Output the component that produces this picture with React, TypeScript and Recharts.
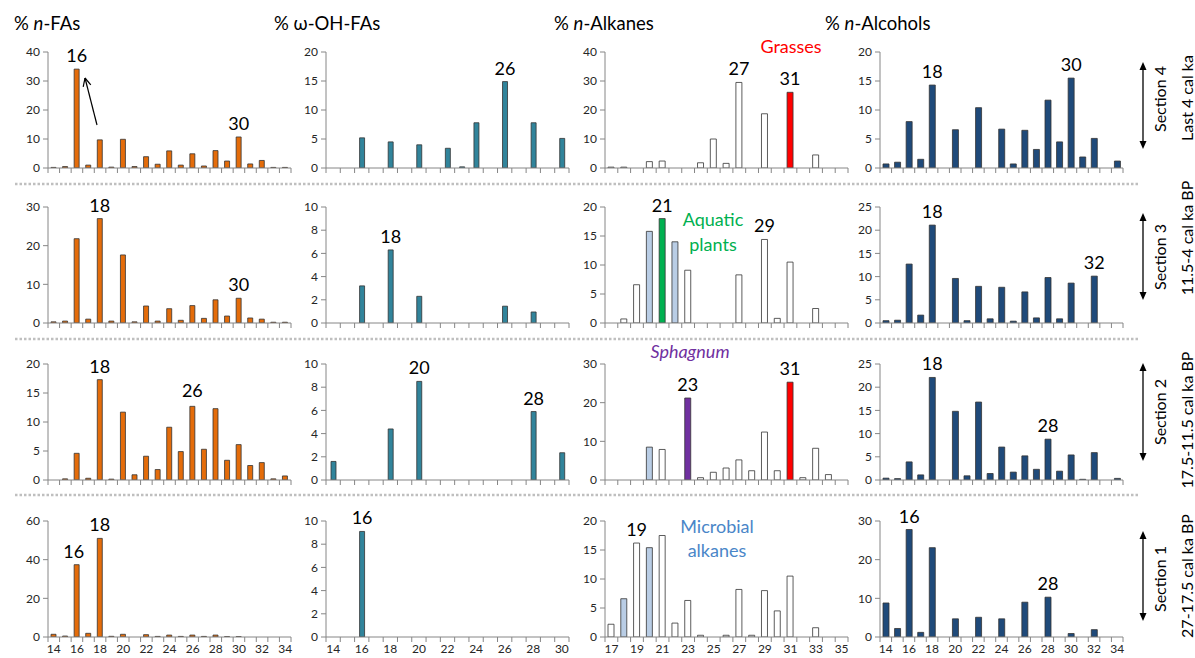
import React from "react";
import { BarChart, Bar, XAxis, YAxis, Cell, LabelList } from "recharts";

const FONT = "Lato, 'Open Sans', sans-serif";
const AXIS = "#868686";
const TXT = "#262626";
const PLOT_W = 243;
const PLOT_H = 116;

// ---------- categories ----------
const faCats = [14, 15, 16, 17, 18, 19, 20, 21, 22, 23, 24, 25, 26, 27, 28, 29, 30, 31, 32, 33, 34];
const ohCats = [14, 15, 16, 17, 18, 19, 20, 21, 22, 23, 24, 25, 26, 27, 28, 29, 30];
const alkCats = [17, 18, 19, 20, 21, 22, 23, 24, 25, 26, 27, 28, 29, 30, 31, 32, 33, 34, 35];
const alcCats = [14, 15, 16, 17, 18, 19, 20, 21, 22, 23, 24, 25, 26, 27, 28, 29, 30, 31, 32, 33, 34];

// ---------- x tick labels (bottom row) ----------
const faTickLabels = [14, 16, 18, 20, 22, 24, 26, 28, 30, 32, 34];
const ohTickLabels = [14, 16, 18, 20, 22, 24, 26, 28, 30];
const alkTickLabels = [17, 19, 21, 23, 25, 27, 29, 31, 33, 35];
const alcTickLabels = [14, 16, 18, 20, 22, 24, 26, 28, 30, 32, 34];

// ---------- % n-FAs ----------
const faS4 = [0.2, 0.5, 34.1, 1.0, 9.7, 0.3, 9.9, 0.5, 3.9, 1.3, 5.9, 1.0, 4.9, 0.7, 6.0, 2.4, 10.7, 1.4, 2.6, 0.2, 0.2];
const faS3 = [0.3, 0.5, 21.8, 1.0, 27.0, 0.5, 17.6, 0.3, 4.4, 0.5, 3.7, 0.7, 4.5, 1.2, 6.0, 1.8, 6.4, 1.3, 1.0, 0.2, 0.2];
const faS2 = [0, 0.2, 4.6, 0.3, 17.3, 0.15, 11.7, 0.9, 4.1, 1.8, 9.1, 4.9, 12.7, 5.3, 12.3, 3.4, 6.1, 2.5, 3.0, 0.2, 0.7];
const faS1 = [1.4, 0.5, 37.4, 1.9, 51.0, 0.35, 1.4, 0, 1.2, 0.3, 1.0, 0.3, 1.0, 0.3, 1.0, 0.2, 0.2, 0, 0, 0, 0];

// ---------- % ω-OH-FAs ----------
const ohS4 = [0, 0, 5.2, 0, 4.5, 0, 4.0, 0, 3.4, 0.2, 7.8, 0, 14.9, 0, 7.8, 0, 5.1];
const ohS3 = [0, 0, 3.2, 0, 6.3, 0, 2.3, 0, 0, 0, 0, 0, 1.45, 0, 0.95, 0, 0];
const ohS2 = [1.6, 0, 0, 0, 4.4, 0, 8.5, 0, 0, 0, 0, 0, 0, 0, 5.9, 0, 2.35];
const ohS1 = [0, 0, 9.1, 0, 0, 0, 0, 0, 0, 0, 0, 0, 0, 0, 0, 0, 0];

// ---------- % n-Alkanes ----------
const alkS4 = [0.3, 0.3, 0, 2.2, 2.4, 0, 0, 1.8, 10.0, 1.6, 29.5, 0, 18.7, 0, 26.1, 0, 4.5, 0, 0];
const alkS3 = [0, 0.7, 6.6, 15.8, 18.0, 14.0, 9.1, 0, 0, 0, 8.3, 0, 14.4, 0.8, 10.5, 0, 2.5, 0, 0];
const alkS2 = [0, 0, 0, 8.5, 7.9, 0, 21.2, 0.6, 2.0, 3.1, 5.2, 2.4, 12.4, 2.4, 25.3, 0.6, 8.2, 1.4, 0];
const alkS1 = [2.2, 6.6, 16.2, 15.4, 17.5, 2.4, 6.3, 0.3, 0, 0.3, 8.2, 0.3, 8.0, 4.5, 10.5, 0, 1.6, 0, 0];

// highlighted alkane chain lengths
const alkS4Grass = [31];
const alkS3Microbial = [20, 22];
const alkS3Aquatic = [21];
const alkS2Microbial = [20];
const alkS2Sphagnum = [23];
const alkS2Grass = [31];
const alkS1Microbial = [18, 20];

// ---------- % n-Alcohols ----------
const alcS4 = [0.7, 1.0, 8.0, 1.5, 14.3, 0, 6.6, 0, 10.4, 0, 6.7, 0.7, 6.5, 3.2, 11.7, 4.5, 15.5, 1.9, 5.1, 0, 1.2];
const alcS3 = [0.5, 0.6, 12.7, 1.7, 21.1, 0, 9.6, 0.5, 7.9, 0.9, 7.7, 0.4, 6.7, 1.1, 9.8, 0.9, 8.6, 0, 10.1, 0, 0];
const alcS2 = [0.4, 0.3, 3.9, 1.1, 22.1, 0, 14.8, 0.9, 16.8, 1.4, 7.1, 1.7, 5.2, 2.3, 8.8, 1.9, 5.4, 0.15, 5.9, 0, 0.35];
const alcS1 = [8.8, 2.2, 27.8, 1.2, 23.1, 0, 4.7, 0, 5.1, 0, 4.7, 0, 9.0, 0, 10.3, 0, 0.9, 0, 1.9, 0, 0];

// ---------- y ticks ----------
const t40 = [0, 10, 20, 30, 40];
const t20by5 = [0, 5, 10, 15, 20];
const t30by10 = [0, 10, 20, 30];
const t10by2 = [0, 2, 4, 6, 8, 10];
const t25 = [0, 5, 10, 15, 20, 25];
const t60 = [0, 20, 40, 60];

// ---------- labelled peaks ----------
const faS4Peaks = [16, 30];
const ohS4Peaks = [26];
const alkS4Peaks = [27, 31];
const alcS4Peaks = [18, 30];
const faS3Peaks = [18, 30];
const ohS3Peaks = [18];
const alkS3Peaks = [21, 29];
const alcS3Peaks = [18, 32];
const faS2Peaks = [18, 26];
const ohS2Peaks = [20, 28];
const alkS2Peaks = [23, 31];
const alcS2Peaks = [18, 28];
const faS1Peaks = [16, 18];
const ohS1Peaks = [16];
const alkS1Peaks = [19];
const alcS1Peaks = [16, 28];

const COL_LEFT = [48, 326, 605, 880];
const ROW_TOP = [52, 207, 364, 521];

const ORANGE = "#E46C0A";
const TEAL = "#31849B";
const NAVY = "#1F4A7A";
const WHITE = "#FFFFFF";
const LIGHTBLUE = "#B9CDE5";
const GREEN = "#00B050";
const PURPLE = "#7030A0";
const RED = "#FF0000";

type PanelProps = {
  left: number;
  top: number;
  cats: number[];
  vals: number[];
  max: number;
  yTicks: number[];
  fill: string;
  barSize: number;
  peaks: number[];
  peakDx?: Record<number, number>;
  peakDy?: Record<number, number>;
  colorOf?: (c: number) => string | undefined;
  xLabels: number[] | null;
};

function Panel(p: PanelProps) {
  const n = p.cats.length;
  const bw = PLOT_W / n;
  const data = p.cats.map((c, i) => ({ cat: c, v: p.vals[i] }));
  const renderTick = (props: any) => {
    const { x, y, payload } = props;
    const idx = props.index ?? payload.index;
    return (
      <g>
        <line x1={x - bw / 2} x2={x - bw / 2} y1={y} y2={y + 5} stroke={AXIS} strokeWidth={1} />
        {idx === n - 1 && (
          <line x1={x + bw / 2} x2={x + bw / 2} y1={y} y2={y + 5} stroke={AXIS} strokeWidth={1} />
        )}
        {p.xLabels && p.xLabels.includes(payload.value) && (
          <text x={x} y={y + 16} textAnchor="middle" fontSize={12} fill={TXT} fontFamily={FONT}>
            {payload.value}
          </text>
        )}
      </g>
    );
  };
  const renderLabel = (props: any) => {
    const { x, y, width, value } = props;
    if (!p.peaks.includes(value)) return null;
    const dx = (p.peakDx && p.peakDx[value]) || 0;
    const dy = (p.peakDy && p.peakDy[value]) || 0;
    return (
      <text
        x={x + width / 2 + dx}
        y={y - 7 + dy}
        textAnchor="middle"
        fontSize={18}
        fill="#000"
        fontFamily={FONT}
      >
        {value}
      </text>
    );
  };
  return (
    <div style={{ position: "absolute", left: p.left - 40, top: p.top - 25 }}>
      <BarChart
        width={40 + PLOT_W + 6}
        height={25 + PLOT_H + 25}
        data={data}
        margin={{ top: 25, right: 6, bottom: 0, left: 0 }}
        style={{ overflow: "visible" }}
      >
        <XAxis
          dataKey="cat"
          type="category"
          interval={0}
          tick={renderTick}
          tickLine={false}
          tickSize={0}
          tickMargin={0}
          axisLine={{ stroke: AXIS }}
          height={25}
        />
        <YAxis
          type="number"
          domain={[0, p.max]}
          ticks={p.yTicks}
          interval={0}
          width={40}
          tickSize={5}
          tickMargin={3}
          tickLine={{ stroke: AXIS }}
          axisLine={{ stroke: AXIS }}
          tick={{ fontSize: 12, fill: TXT, fontFamily: FONT }}
          allowDataOverflow
        />
        <Bar
          dataKey="v"
          barSize={p.barSize}
          fill={p.fill}
          stroke="#333"
          strokeWidth={0.8}
          isAnimationActive={false}
        >
          {p.colorOf &&
            data.map((d, i) => <Cell key={i} fill={p.colorOf!(d.cat) || p.fill} />)}
          <LabelList dataKey="cat" content={renderLabel} />
        </Bar>
      </BarChart>
    </div>
  );
}

function alkColor(micro: number[], aquatic: number[], sph: number[], grass: number[]) {
  return (c: number) => {
    if (micro.includes(c)) return LIGHTBLUE;
    if (aquatic.includes(c)) return GREEN;
    if (sph.includes(c)) return PURPLE;
    if (grass.includes(c)) return RED;
    return WHITE;
  };
}

function DArrow({ x, y1, y2 }: { x: number; y1: number; y2: number }) {
  return (
    <g>
      <line x1={x} x2={x} y1={y1 + 5} y2={y2 - 5} stroke="#000" strokeWidth={1.3} />
      <polygon points={`${x},${y1} ${x - 3.5},${y1 + 8} ${x + 3.5},${y1 + 8}`} fill="#000" />
      <polygon points={`${x},${y2} ${x - 3.5},${y2 - 8} ${x + 3.5},${y2 - 8}`} fill="#000" />
    </g>
  );
}

function VText({ x, y, text }: { x: number; y: number; text: string }) {
  return (
    <text
      x={x}
      y={y}
      transform={`rotate(-90, ${x}, ${y})`}
      textAnchor="middle"
      dominantBaseline="central"
      fontSize={16}
      fill="#000"
      fontFamily={FONT}
    >
      {text}
    </text>
  );
}

export default function App() {
  const rows = [
    {
      fa: faS4, oh: ohS4, alk: alkS4, alc: alcS4,
      faMax: 40, faT: t40, ohMax: 20, ohT: t20by5, alkMax: 40, alkT: t40, alcMax: 20, alcT: t20by5,
      faP: faS4Peaks, ohP: ohS4Peaks, alkP: alkS4Peaks, alcP: alcS4Peaks,
      alkC: alkColor([], [], [], alkS4Grass),
    },
    {
      fa: faS3, oh: ohS3, alk: alkS3, alc: alcS3,
      faMax: 30, faT: t30by10, ohMax: 10, ohT: t10by2, alkMax: 20, alkT: t20by5, alcMax: 25, alcT: t25,
      faP: faS3Peaks, ohP: ohS3Peaks, alkP: alkS3Peaks, alcP: alcS3Peaks,
      alkC: alkColor(alkS3Microbial, alkS3Aquatic, [], []),
    },
    {
      fa: faS2, oh: ohS2, alk: alkS2, alc: alcS2,
      faMax: 20, faT: t20by5, ohMax: 10, ohT: t10by2, alkMax: 30, alkT: t30by10, alcMax: 25, alcT: t25,
      faP: faS2Peaks, ohP: ohS2Peaks, alkP: alkS2Peaks, alcP: alcS2Peaks,
      alkC: alkColor(alkS2Microbial, [], alkS2Sphagnum, alkS2Grass),
    },
    {
      fa: faS1, oh: ohS1, alk: alkS1, alc: alcS1,
      faMax: 60, faT: t60, ohMax: 10, ohT: t10by2, alkMax: 20, alkT: t20by5, alcMax: 30, alcT: t30by10,
      faP: faS1Peaks, ohP: ohS1Peaks, alkP: alkS1Peaks, alcP: alcS1Peaks,
      alkC: alkColor(alkS1Microbial, [], [], []),
    },
  ];

  const arrowTail = { x: 97, y: 125 };
  const arrowHead = { x: 85, y: 78 };
  const ang = Math.atan2(arrowHead.y - arrowTail.y, arrowHead.x - arrowTail.x);
  const hl = 9;
  const a1 = ang + Math.PI - 0.45;
  const a2 = ang + Math.PI + 0.45;

  return (
    <div
      style={{
        position: "absolute",
        left: 0,
        top: 0,
        width: 1195,
        height: 658,
        background: "#fff",
        fontFamily: FONT,
        overflow: "hidden",
      }}
    >
      {rows.map((r, ri) => {
        const bottom = ri === 3;
        return (
          <React.Fragment key={ri}>
            <Panel
              left={COL_LEFT[0]} top={ROW_TOP[ri]} cats={faCats} vals={r.fa} max={r.faMax} yTicks={r.faT}
              fill={ORANGE} barSize={5} peaks={r.faP} xLabels={bottom ? faTickLabels : null}
              peakDx={ri === 3 ? { 16: -3 } : undefined}
              peakDy={ri === 2 ? { 26: -2 } : undefined}
            />
            <Panel
              left={COL_LEFT[1]} top={ROW_TOP[ri]} cats={ohCats} vals={r.oh} max={r.ohMax} yTicks={r.ohT}
              fill={TEAL} barSize={5} peaks={r.ohP} xLabels={bottom ? ohTickLabels : null}
            />
            <Panel
              left={COL_LEFT[2]} top={ROW_TOP[ri]} cats={alkCats} vals={r.alk} max={r.alkMax} yTicks={r.alkT}
              fill={WHITE} barSize={6} peaks={r.alkP} colorOf={r.alkC} xLabels={bottom ? alkTickLabels : null}
            />
            <Panel
              left={COL_LEFT[3]} top={ROW_TOP[ri]} cats={alcCats} vals={r.alc} max={r.alcMax} yTicks={r.alcT}
              fill={NAVY} barSize={6} peaks={r.alcP} xLabels={bottom ? alcTickLabels : null}
            />
          </React.Fragment>
        );
      })}

      <svg
        width={1195}
        height={658}
        style={{ position: "absolute", left: 0, top: 0, pointerEvents: "none" }}
      >
        {/* column titles */}
        <g fontFamily={FONT} fontSize={18.5} fill="#000">
          <text x={14} y={30}>
            <tspan>% </tspan>
            <tspan fontStyle="italic">n</tspan>
            <tspan>-FAs</tspan>
          </text>
          <text x={274} y={30}>% ω-OH-FAs</text>
          <text x={554} y={30}>
            <tspan>% </tspan>
            <tspan fontStyle="italic">n</tspan>
            <tspan>-Alkanes</tspan>
          </text>
          <text x={825} y={30}>
            <tspan>% </tspan>
            <tspan fontStyle="italic">n</tspan>
            <tspan>-Alcohols</tspan>
          </text>
        </g>

        {/* dotted separators */}
        {[184, 339, 495].map((y) => (
          <line
            key={y}
            x1={15}
            x2={1140}
            y1={y}
            y2={y}
            stroke="#BFBFBF"
            strokeWidth={2.5}
            strokeDasharray="2.5 2"
          />
        ))}

        {/* arrow in n-FAs section 4 */}
        <g stroke="#000" strokeWidth={1.2} fill="none">
          <line x1={arrowTail.x} y1={arrowTail.y} x2={arrowHead.x} y2={arrowHead.y} />
          <line
            x1={arrowHead.x}
            y1={arrowHead.y}
            x2={arrowHead.x + hl * Math.cos(a1)}
            y2={arrowHead.y + hl * Math.sin(a1)}
          />
          <line
            x1={arrowHead.x}
            y1={arrowHead.y}
            x2={arrowHead.x + hl * Math.cos(a2)}
            y2={arrowHead.y + hl * Math.sin(a2)}
          />
        </g>

        {/* source annotations */}
        <g fontFamily={FONT} fontSize={18} textAnchor="middle">
          <text x={791} y={53} fill={RED}>Grasses</text>
          <text x={713} y={226} fill={GREEN}>Aquatic</text>
          <text x={713} y={251} fill={GREEN}>plants</text>
          <text x={690} y={358} fill={PURPLE} fontStyle="italic">Sphagnum</text>
          <text x={717} y={533} fill="#4A86C8">Microbial</text>
          <text x={717} y={557} fill="#4A86C8">alkanes</text>
        </g>

        {/* right-hand section annotations */}
        <DArrow x={1143} y1={62} y2={149} />
        <DArrow x={1143} y1={213} y2={300} />
        <DArrow x={1143} y1={363} y2={461} />
        <DArrow x={1143} y1={531} y2={621} />
        <VText x={1159} y={99} text="Section 4" />
        <VText x={1186} y={98} text="Last 4 cal ka" />
        <VText x={1159} y={257} text="Section 3" />
        <VText x={1186} y={238} text="11.5-4 cal ka BP" />
        <VText x={1159} y={412} text="Section 2" />
        <VText x={1186} y={420} text="17.5-11.5 cal ka BP" />
        <VText x={1159} y={579} text="Section 1" />
        <VText x={1186} y={576} text="27-17.5 cal ka BP" />
      </svg>
    </div>
  );
}
